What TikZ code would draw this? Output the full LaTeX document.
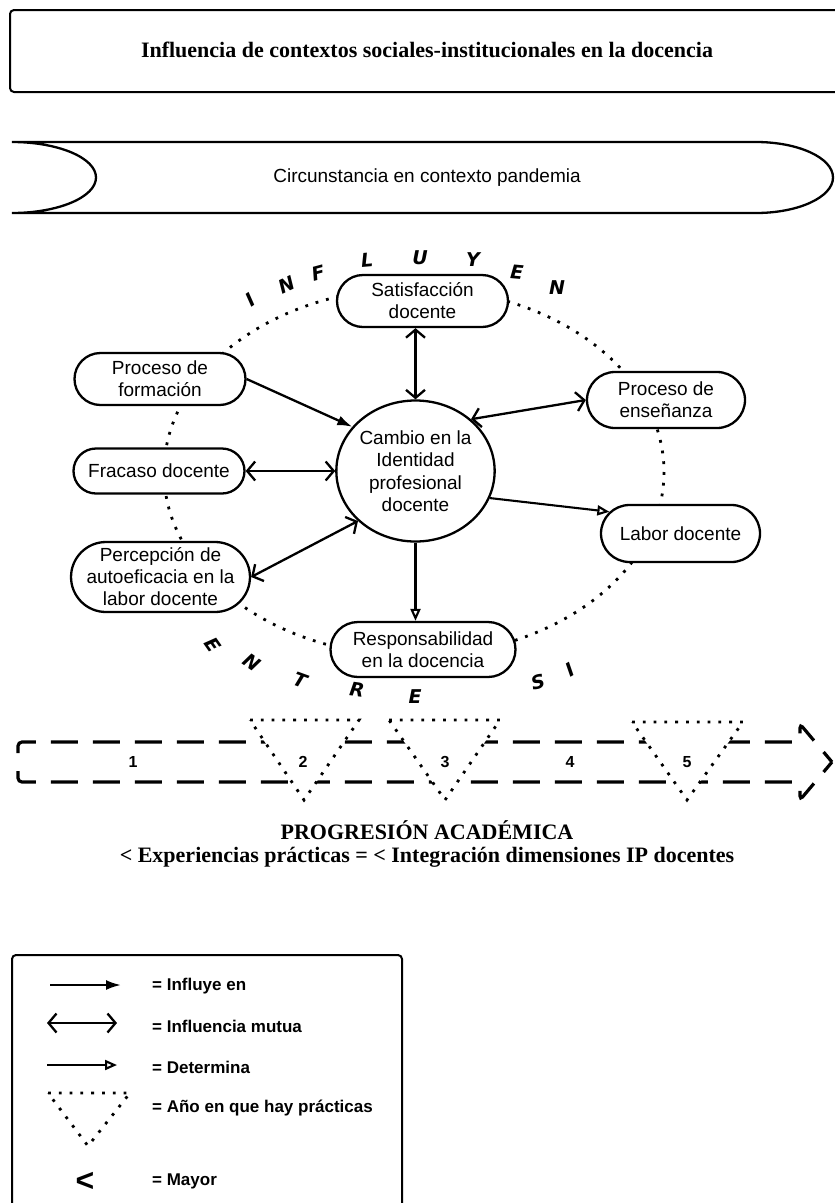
\documentclass[tikz,border=0pt]{standalone}
\usepackage{fontspec}
\setmainfont{Liberation Serif}
\setsansfont{Liberation Sans}
\newfontfamily\handfont{DejaVu Sans}
\usetikzlibrary{shapes.misc,shapes.geometric,arrows.meta,calc}
\begin{document}
\begin{tikzpicture}[x=1pt,y=-1pt,
  lw/.style={line width=2.3pt},
  pill/.style={draw,lw,rounded rectangle,fill=white,align=center,inner sep=0pt,
    font=\sffamily\fontsize{19}{22}\selectfont},
  dotline/.style={line width=2.8pt,dash pattern=on 2.8pt off 8pt},
  fl/.style={lw,-{Latex[length=15pt,width=10pt]}},
  mu/.style={lw,{Straight Barb[length=8pt,width=19pt]}-{Straight Barb[length=8pt,width=19pt]}},
  de/.style={line width=2.1pt,-{Triangle[open,length=12pt,width=10pt,fill=white]}},
  lt/.style={font=\handfont\bfseries\itshape\fontsize{19}{22}\selectfont,inner sep=0pt},
  dasharrow/.style={line width=3.2pt,dash pattern=on 27pt off 15pt,rounded corners=4pt},
  tri/.style={dotline,fill=white},
  num/.style={font=\sffamily\bfseries\fontsize{16}{19}\selectfont},
  lg/.style={font=\sffamily\bfseries\fontsize{17}{20}\selectfont,anchor=west,inner sep=0pt},
  ttl/.style={font=\bfseries\fontsize{22}{26}\selectfont}
]
\useasboundingbox (0,0) rectangle (835,1203);
\clip (0,0) rectangle (835,1203);

% title box
\draw[line width=2pt,rounded corners=4pt] (10,10) rectangle (850,92);
\node[ttl] (title) at (427,50) {Influencia de contextos sociales-institucionales en la docencia};

% circumstance shape
\draw[line width=2.3pt] (12,142) -- (756,142)
  arc[start angle=-90,end angle=90,x radius=77,y radius=35.5]
  -- (12,213)
  arc[start angle=90,end angle=-90,x radius=84,y radius=35.5] -- cycle;
\node[font=\sffamily\fontsize{19}{22}\selectfont] (circ0) at (427,178) {Circunstancia en contexto pandemia};

% dotted ring
\draw[dotline] (414,472) ellipse[x radius=250,y radius=184];

% nodes
\node[pill,minimum width=171pt,minimum height=52pt] (sat) at (422.5,301) {Satisfacción\\docente};
\node[pill,minimum width=171pt,minimum height=52pt] (form) at (160,379) {Proceso de\\formación};
\node[pill,minimum width=158pt,minimum height=56pt] (ens) at (666,400) {Proceso de\\enseñanza};
\node[pill,minimum width=171pt,minimum height=45pt] (frac) at (159,471) {Fracaso docente};
\node[pill,minimum width=159pt,minimum height=57pt] (lab) at (680.5,533.5) {Labor docente};
\node[pill,minimum width=175pt,minimum height=70pt] (perc) at (160.5,577) {Percepción de\\autoeficacia en la\\labor docente};
\node[pill,minimum width=185pt,minimum height=55pt] (resp) at (423,649.5) {Responsabilidad\\en la docencia};
\node[draw,lw,ellipse,fill=white,minimum width=155pt,minimum height=141pt,inner sep=0pt,align=center,
  font=\sffamily\fontsize{19}{22.5}\selectfont] (circ) at (415.5,471) {Cambio en la\\Identidad\\profesional\\docente};

% connectors
\draw[fl] (form.east) -- (circ.145);
\draw[mu] (circ.north) -- (circ.north |- sat.south);
\draw[mu] (circ.43) -- (ens.west);
\draw[mu] (frac.east) -- (circ.west);
\draw[de] (circ.-20) -- (lab.163);
\draw[mu] (perc.east) -- (circ.221);
\draw[de] (circ.south) -- (circ.south |- resp.north);

% INFLUYEN
\node[lt,rotate=35] (i1) at (250,300) {I};
\node[lt,rotate=25] (i2) at (287,285) {N};
\node[lt,rotate=15] (i3) at (318,273) {F};
\node[lt,rotate=5] (i4) at (367,260) {L};
\node[lt] (i5) at (420,258) {U};
\node[lt] (i6) at (473,260) {Y};
\node[lt,rotate=-5] (i7) at (517,272) {E};
\node[lt] (i8) at (557,288) {N};

% ENTRESI
\node[lt,rotate=-55] (e1) at (213,645) {E};
\node[lt,rotate=-35] (e2) at (252,662) {N};
\node[lt,rotate=-20] (e3) at (300,680) {T};
\node[lt,rotate=-8] (e4) at (357,690) {R};
\node[lt] (e5) at (415,697) {E};
\node[lt,rotate=15] (e6) at (538,682) {S};
\node[lt,rotate=30] (e7) at (570,670) {I};

% progression arrow
\draw[dasharrow] (18,753) -- (18,742) -- (800,742) -- (800,724) -- (832,762);
\draw[dasharrow] (18,771) -- (18,782) -- (800,782) -- (800,800) -- (832,762);
\draw[tri] (250,720) -- (359,720) -- (304,800) -- cycle;
\draw[tri] (389,720) -- (500,720) -- (445,800) -- cycle;
\draw[tri] (632,722) -- (743,722) -- (687,800) -- cycle;
\node[num] (n1) at (133,762) {1};
\node[num] (n2) at (303,762) {2};
\node[num] (n3) at (445,762) {3};
\node[num] (n4) at (570,762) {4};
\node[num] (n5) at (687,762) {5};

\node[ttl] (prog) at (427,830) {PROGRESIÓN ACADÉMICA};
\node[ttl] (exp) at (427,857) {< Experiencias prácticas = < Integración dimensiones IP docentes};

% legend
\draw[line width=2pt,rounded corners=4pt] (12,955) rectangle (402,1220);
\coordinate (a1s) at (50,985); \coordinate (a1e) at (121,985);
\coordinate (a2s) at (47,1023); \coordinate (a2e) at (117,1023);
\coordinate (a3s) at (47,1065); \coordinate (a3e) at (117,1065);
\draw[fl] (a1s) -- (a1e);
\draw[mu] (a2s) -- (a2e);
\draw[de] (a3s) -- (a3e);
\draw[dotline] (48,1093) -- (130,1093) -- (88,1146) -- cycle;
\node[font=\sffamily\bfseries\fontsize{32}{36}\selectfont] (lt5) at (85,1182) {<};
\node[lg] (g1) at (152,986) {= Influye en};
\node[lg] (g2) at (152,1026) {= Influencia mutua};
\node[lg] (g3) at (152,1067) {= Determina};
\node[lg] (g4) at (152,1108) {= Año en que hay prácticas};
\node[lg] (g5) at (152,1181) {= Mayor};
\end{tikzpicture}
\end{document}
